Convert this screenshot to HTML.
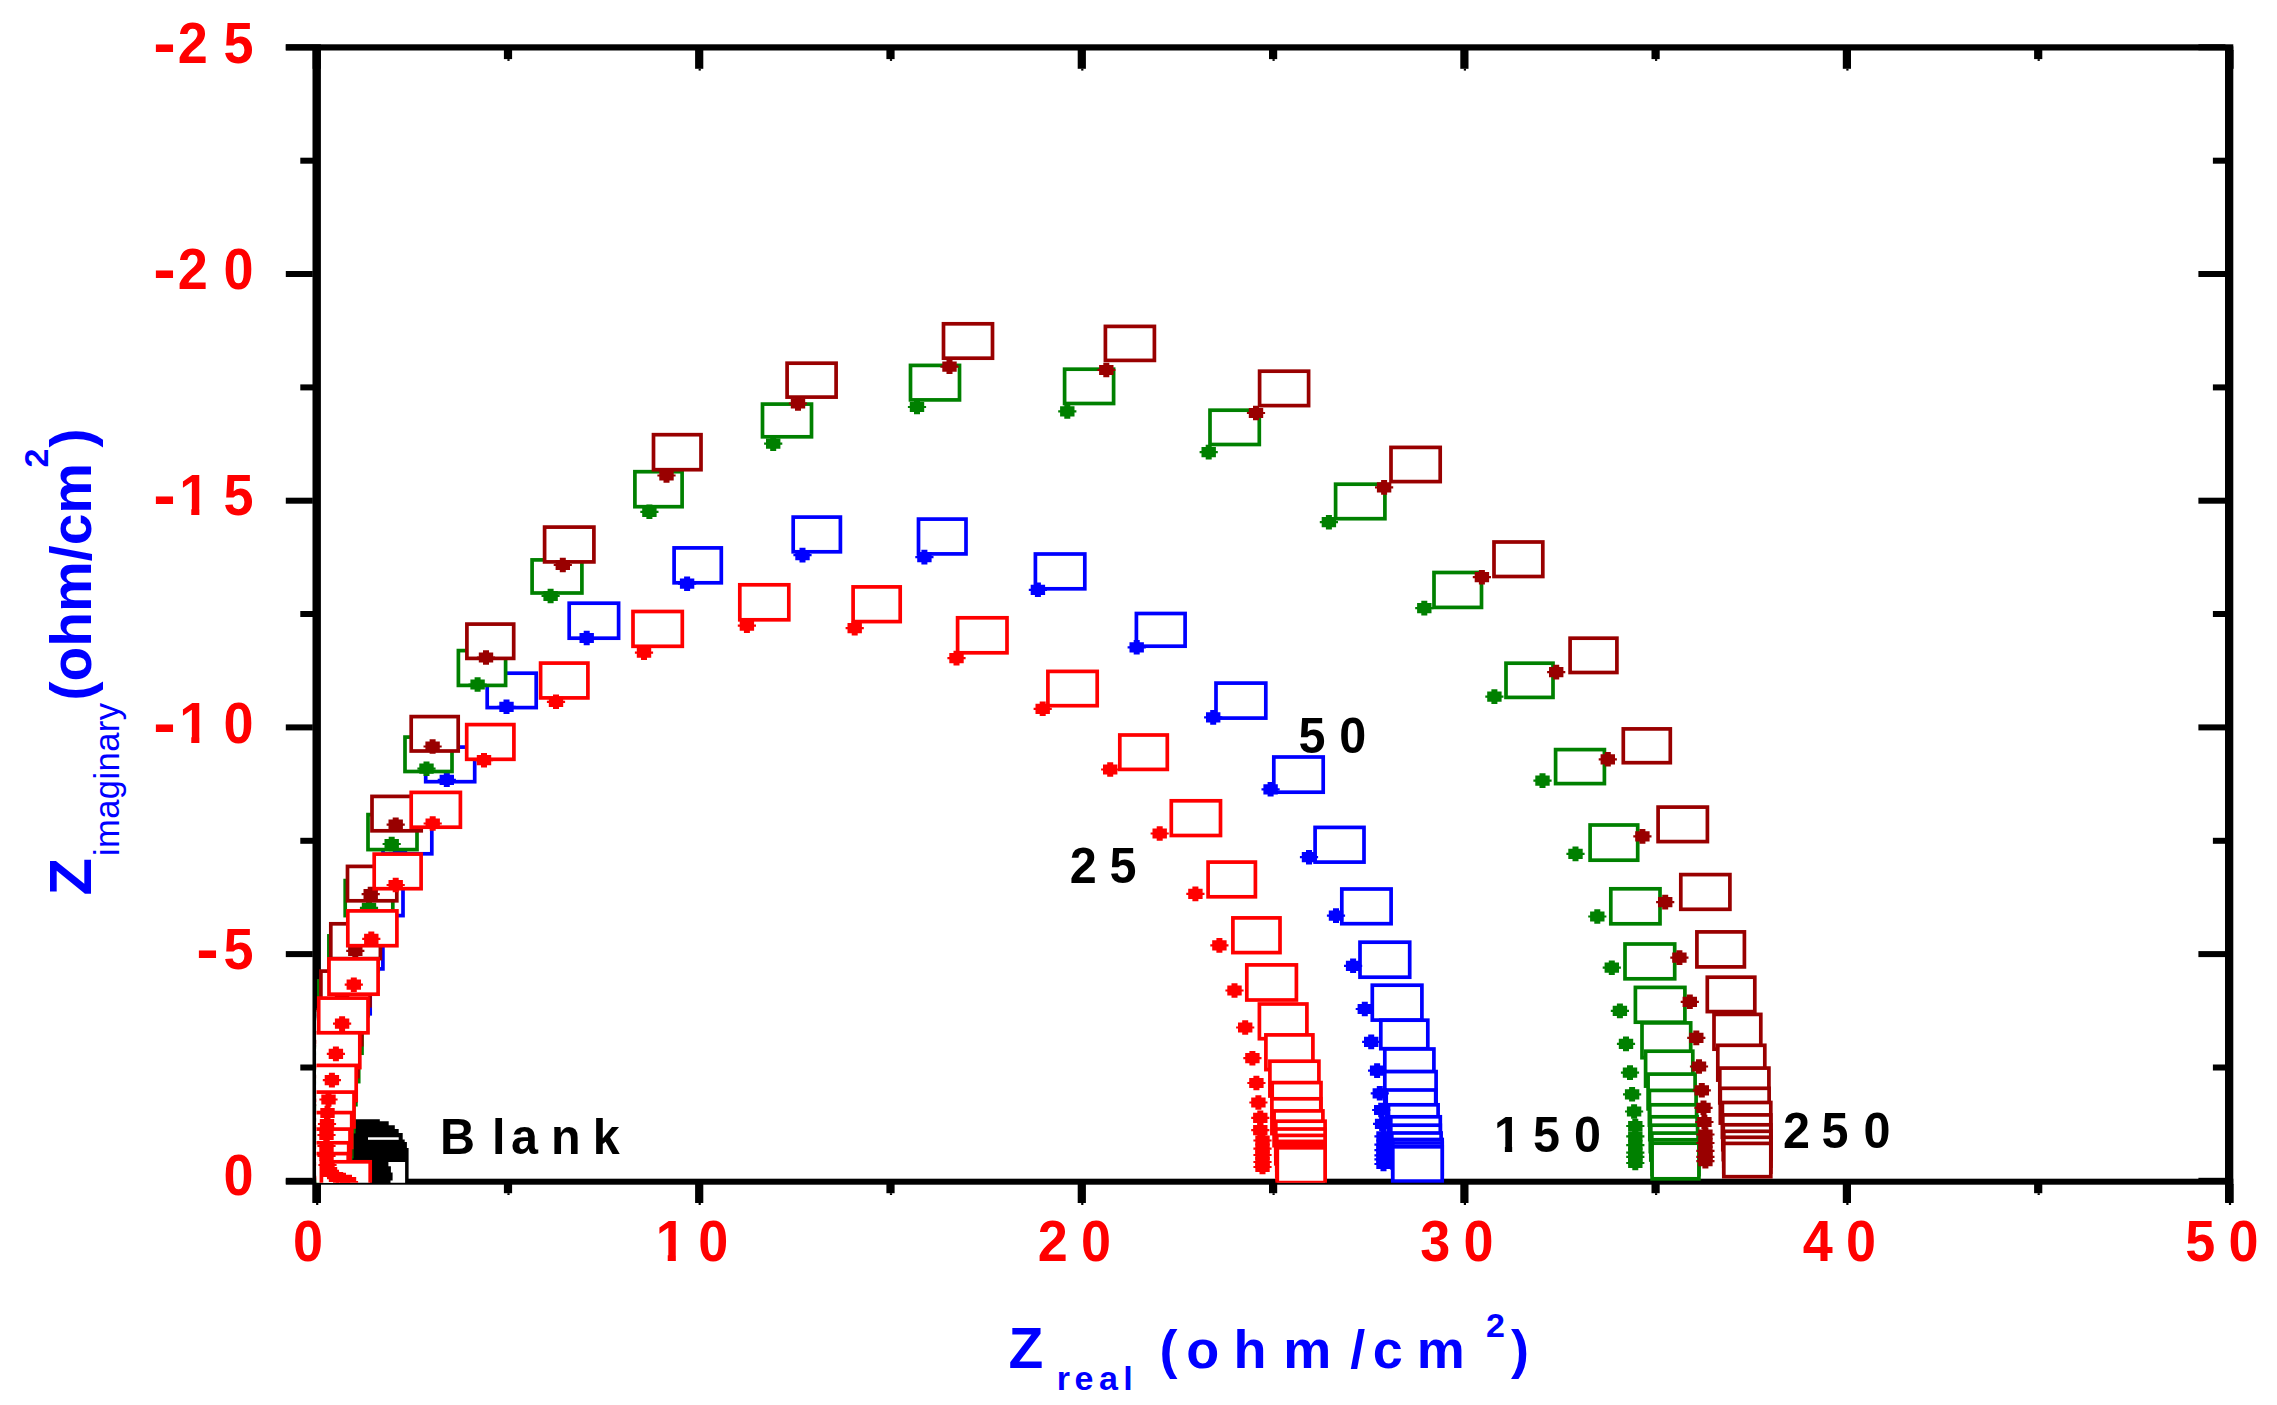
<!DOCTYPE html>
<html><head><meta charset="utf-8"><title>Nyquist plot</title><style>html,body{margin:0;padding:0;background:#fff;}body{width:2277px;height:1405px;overflow:hidden;}svg{display:block;}</style></head><body>
<svg width="2277" height="1405" viewBox="0 0 2277 1405">
<rect width="2277" height="1405" fill="#fff"/>
<defs><path id="dt" d="M-3,-7.3H3V-5.1H7.2V-1.1H9.1V1.1H7.2V5.1H3V7.3H-3V5.1H-7.2V1.1H-9.1V-1.1H-7.2V-5.1H-3Z"/><clipPath id="pc"><rect x="316.5" y="47" width="1912" height="1135.8"/></clipPath></defs>
<g fill="#000">
<rect x="285.8" y="44.3" width="1947.5" height="6.2"/>
<rect x="285.8" y="1178.7" width="1947.5" height="6.0"/>
<rect x="312.5" y="44.3" width="8.4" height="1158.6"/>
<rect x="2225.0" y="46.3" width="8.3" height="1156.5"/>
<rect x="285.8" y="44.3" width="27" height="6"/>
<rect x="2198.4" y="44.3" width="27" height="6"/>
<rect x="300.3" y="157.7" width="13" height="6"/>
<rect x="2212.9" y="157.7" width="13" height="6"/>
<rect x="285.8" y="271.0" width="27" height="6"/>
<rect x="2198.4" y="271.0" width="27" height="6"/>
<rect x="300.3" y="384.4" width="13" height="6"/>
<rect x="2212.9" y="384.4" width="13" height="6"/>
<rect x="285.8" y="497.7" width="27" height="6"/>
<rect x="2198.4" y="497.7" width="27" height="6"/>
<rect x="300.3" y="611.0" width="13" height="6"/>
<rect x="2212.9" y="611.0" width="13" height="6"/>
<rect x="285.8" y="724.4" width="27" height="6"/>
<rect x="2198.4" y="724.4" width="27" height="6"/>
<rect x="300.3" y="837.8" width="13" height="6"/>
<rect x="2212.9" y="837.8" width="13" height="6"/>
<rect x="285.8" y="951.1" width="27" height="6"/>
<rect x="2198.4" y="951.1" width="27" height="6"/>
<rect x="300.3" y="1064.5" width="13" height="6"/>
<rect x="2212.9" y="1064.5" width="13" height="6"/>
<rect x="285.8" y="1177.8" width="27" height="6"/>
<rect x="2198.4" y="1177.8" width="27" height="6"/>
<rect x="312.6" y="1184" width="8.2" height="19"/>
<rect x="312.6" y="50" width="8.2" height="18.8"/>
<rect x="316.1" y="1203" width="2.2" height="2"/>
<rect x="316.1" y="68.8" width="2.2" height="1.8"/>
<rect x="503.9" y="1184" width="8.2" height="9.2"/>
<rect x="503.9" y="50" width="8.2" height="9.1"/>
<rect x="507.4" y="1193.2" width="2.2" height="1.8"/>
<rect x="507.4" y="59.1" width="2.2" height="1.8"/>
<rect x="695.1" y="1184" width="8.2" height="19"/>
<rect x="695.1" y="50" width="8.2" height="18.8"/>
<rect x="698.6" y="1203" width="2.2" height="2"/>
<rect x="698.6" y="68.8" width="2.2" height="1.8"/>
<rect x="886.4" y="1184" width="8.2" height="9.2"/>
<rect x="886.4" y="50" width="8.2" height="9.1"/>
<rect x="889.9" y="1193.2" width="2.2" height="1.8"/>
<rect x="889.9" y="59.1" width="2.2" height="1.8"/>
<rect x="1077.7" y="1184" width="8.2" height="19"/>
<rect x="1077.7" y="50" width="8.2" height="18.8"/>
<rect x="1081.2" y="1203" width="2.2" height="2"/>
<rect x="1081.2" y="68.8" width="2.2" height="1.8"/>
<rect x="1269.0" y="1184" width="8.2" height="9.2"/>
<rect x="1269.0" y="50" width="8.2" height="9.1"/>
<rect x="1272.5" y="1193.2" width="2.2" height="1.8"/>
<rect x="1272.5" y="59.1" width="2.2" height="1.8"/>
<rect x="1460.3" y="1184" width="8.2" height="19"/>
<rect x="1460.3" y="50" width="8.2" height="18.8"/>
<rect x="1463.8" y="1203" width="2.2" height="2"/>
<rect x="1463.8" y="68.8" width="2.2" height="1.8"/>
<rect x="1651.5" y="1184" width="8.2" height="9.2"/>
<rect x="1651.5" y="50" width="8.2" height="9.1"/>
<rect x="1655.0" y="1193.2" width="2.2" height="1.8"/>
<rect x="1655.0" y="59.1" width="2.2" height="1.8"/>
<rect x="1842.8" y="1184" width="8.2" height="19"/>
<rect x="1842.8" y="50" width="8.2" height="18.8"/>
<rect x="1846.3" y="1203" width="2.2" height="2"/>
<rect x="1846.3" y="68.8" width="2.2" height="1.8"/>
<rect x="2034.1" y="1184" width="8.2" height="9.2"/>
<rect x="2034.1" y="50" width="8.2" height="9.1"/>
<rect x="2037.6" y="1193.2" width="2.2" height="1.8"/>
<rect x="2037.6" y="59.1" width="2.2" height="1.8"/>
<rect x="2225.4" y="1184" width="8.2" height="19"/>
<rect x="2225.4" y="50" width="8.2" height="18.8"/>
<rect x="2228.9" y="1203" width="2.2" height="2"/>
<rect x="2228.9" y="68.8" width="2.2" height="1.8"/>
</g>
<g clip-path="url(#pc)">
<path d="M351,1119.2 L379.8,1119.2 L379.8,1121.3 L388.7,1121.3 L388.7,1125.2 L394.8,1125.2 L394.8,1129.1 L398.7,1129.1 L398.7,1133.1 L402.7,1133.1 L402.7,1139.5 L404.7,1139.5 L404.7,1142 L406.9,1142 L406.9,1148 L408.6,1148 L408.6,1184 L349,1184 Z" fill="#000"/>
<rect x="368" y="1137.3" width="30.7" height="2.5" fill="#fff"/>
<path d="M388.4,1161.9 L405.1,1161.9 L405.1,1184 L390.5,1184 L390.5,1180.4 L392.6,1180.4 L392.6,1172.6 L390.9,1172.6 L390.9,1166.2 L388.4,1166.2 Z" fill="#fff"/>
<g fill="#fff" stroke="#0000ff" stroke-width="3.7">
<rect x="1216.0" y="683.1" width="49.8" height="35.0"/>
<rect x="1273.8" y="757.0" width="49.4" height="35.2"/>
<rect x="674.1" y="547.9" width="47.2" height="34.9"/>
<rect x="793.2" y="517.1" width="47.2" height="34.7"/>
<rect x="918.5" y="519.1" width="47.5" height="34.8"/>
<rect x="1035.4" y="554.0" width="49.4" height="34.8"/>
<rect x="1136.4" y="613.5" width="48.7" height="32.7"/>
<rect x="569.2" y="603.2" width="49.4" height="35.0"/>
<rect x="487.2" y="673.2" width="49.0" height="34.4"/>
<rect x="425.7" y="747.1" width="49.0" height="34.6"/>
<rect x="1315.1" y="827.4" width="48.9" height="34.7"/>
<rect x="1341.8" y="889.0" width="49.3" height="34.7"/>
<rect x="1360.0" y="942.2" width="49.7" height="35.0"/>
<rect x="1372.3" y="985.2" width="49.6" height="34.9"/>
<rect x="1380.8" y="1020.2" width="47.0" height="28.5"/>
<rect x="1384.8" y="1049.0" width="49.1" height="22.7"/>
<rect x="1384.8" y="1071.6" width="51.3" height="34.8"/>
<rect x="1386.2" y="1090.0" width="49.5" height="34.8"/>
<rect x="1388.5" y="1104.8" width="49.6" height="34.8"/>
<rect x="1390.8" y="1116.8" width="49.5" height="34.8"/>
<rect x="1390.8" y="1125.2" width="49.5" height="34.8"/>
<rect x="1391.8" y="1133.0" width="49.3" height="34.8"/>
<rect x="1392.8" y="1139.5" width="49.4" height="34.8"/>
<rect x="1392.8" y="1143.0" width="49.4" height="34.8"/>
<rect x="1392.8" y="1146.8" width="49.4" height="34.3"/>
<rect x="383.0" y="819.0" width="48.8" height="34.8"/>
<rect x="354.2" y="880.8" width="48.8" height="34.8"/>
<rect x="334.1" y="934.1" width="48.8" height="34.8"/>
<rect x="321.4" y="979.0" width="48.8" height="34.8"/>
<rect x="309.4" y="1018.4" width="48.8" height="34.8"/>
<rect x="301.4" y="1053.3" width="48.8" height="34.8"/>
<rect x="295.4" y="1083.3" width="48.8" height="34.8"/>
<rect x="291.4" y="1113.3" width="48.8" height="34.8"/>
<rect x="289.4" y="1138.3" width="48.8" height="34.8"/>
</g>
<g fill="#0000ff">
<use href="#dt" x="1213.2" y="717.4"/>
<use href="#dt" x="1270.6" y="789.3"/>
<use href="#dt" x="687.1" y="583.7"/>
<use href="#dt" x="802.5" y="555.1"/>
<use href="#dt" x="924.4" y="557.1"/>
<use href="#dt" x="1037.9" y="589.8"/>
<use href="#dt" x="1136.7" y="647.3"/>
<use href="#dt" x="586.7" y="638.0"/>
<use href="#dt" x="506.5" y="706.8"/>
<use href="#dt" x="446.8" y="779.8"/>
<use href="#dt" x="1309.0" y="857.2"/>
<use href="#dt" x="1336.0" y="915.6"/>
<use href="#dt" x="1353.1" y="965.8"/>
<use href="#dt" x="1364.8" y="1009.0"/>
<use href="#dt" x="1371.2" y="1041.9"/>
<use href="#dt" x="1377.1" y="1070.6"/>
<use href="#dt" x="1379.8" y="1093.3"/>
<use href="#dt" x="1381.2" y="1110.0"/>
<use href="#dt" x="1382.1" y="1123.8"/>
<use href="#dt" x="1383.5" y="1136.3"/>
<use href="#dt" x="1383.5" y="1144.6"/>
<use href="#dt" x="1383.5" y="1150.2"/>
<use href="#dt" x="1383.5" y="1155.3"/>
<use href="#dt" x="1383.5" y="1159.4"/>
<use href="#dt" x="1383.5" y="1164.0"/>
<use href="#dt" x="400.0" y="850.0"/>
<use href="#dt" x="372.0" y="912.0"/>
<use href="#dt" x="352.0" y="965.0"/>
<use href="#dt" x="338.0" y="1010.0"/>
<use href="#dt" x="330.0" y="1050.0"/>
<use href="#dt" x="326.0" y="1085.0"/>
<use href="#dt" x="323.0" y="1115.0"/>
<use href="#dt" x="321.0" y="1140.0"/>
<use href="#dt" x="320.0" y="1160.0"/>
</g>
<g fill="#fff" stroke="#008000" stroke-width="3.7">
<rect x="762.5" y="404.1" width="49.0" height="32.7"/>
<rect x="910.5" y="365.4" width="49.0" height="34.5"/>
<rect x="1064.6" y="369.2" width="49.0" height="34.3"/>
<rect x="1210.0" y="410.2" width="49.3" height="34.3"/>
<rect x="634.9" y="471.7" width="47.2" height="35.0"/>
<rect x="532.1" y="559.9" width="49.8" height="33.1"/>
<rect x="1335.6" y="484.2" width="49.3" height="34.5"/>
<rect x="1434.0" y="572.5" width="47.5" height="34.9"/>
<rect x="1506.0" y="663.2" width="47.0" height="34.2"/>
<rect x="1555.6" y="749.6" width="48.8" height="34.0"/>
<rect x="1590.1" y="825.0" width="47.6" height="35.2"/>
<rect x="1610.8" y="888.8" width="49.2" height="35.0"/>
<rect x="1625.0" y="944.0" width="49.7" height="34.8"/>
<rect x="1635.4" y="987.4" width="49.5" height="34.8"/>
<rect x="1642.0" y="1022.9" width="48.7" height="34.8"/>
<rect x="1645.6" y="1051.2" width="47.2" height="34.9"/>
<rect x="1648.1" y="1074.1" width="47.0" height="34.8"/>
<rect x="1649.4" y="1090.4" width="46.7" height="34.8"/>
<rect x="1649.8" y="1104.8" width="46.8" height="34.8"/>
<rect x="1650.3" y="1116.8" width="46.8" height="34.8"/>
<rect x="1650.8" y="1125.2" width="46.8" height="34.8"/>
<rect x="1651.8" y="1133.1" width="46.3" height="34.8"/>
<rect x="1652.1" y="1139.8" width="46.8" height="34.8"/>
<rect x="1652.1" y="1143.2" width="46.8" height="35.6"/>
<rect x="458.4" y="650.6" width="47.2" height="34.8"/>
<rect x="405.0" y="737.1" width="47.0" height="34.4"/>
<rect x="368.0" y="814.6" width="49.0" height="35.0"/>
<rect x="345.2" y="880.6" width="47.6" height="35.0"/>
<rect x="328.9" y="935.9" width="49.3" height="34.8"/>
<rect x="318.9" y="980.9" width="49.3" height="34.8"/>
<rect x="313.2" y="1018.4" width="48.8" height="34.8"/>
<rect x="309.9" y="1046.8" width="48.8" height="34.8"/>
<rect x="307.1" y="1069.9" width="48.8" height="34.8"/>
<rect x="304.9" y="1096.8" width="48.8" height="34.8"/>
<rect x="302.9" y="1121.8" width="48.8" height="34.8"/>
<rect x="301.9" y="1146.8" width="48.8" height="34.8"/>
</g>
<g fill="#008000">
<use href="#dt" x="773.2" y="443.7"/>
<use href="#dt" x="917.0" y="407.0"/>
<use href="#dt" x="1067.3" y="411.4"/>
<use href="#dt" x="1208.7" y="452.1"/>
<use href="#dt" x="649.4" y="511.8"/>
<use href="#dt" x="550.6" y="596.0"/>
<use href="#dt" x="1328.9" y="522.2"/>
<use href="#dt" x="1424.3" y="608.1"/>
<use href="#dt" x="1494.4" y="696.6"/>
<use href="#dt" x="1542.5" y="780.6"/>
<use href="#dt" x="1575.5" y="853.9"/>
<use href="#dt" x="1597.3" y="916.5"/>
<use href="#dt" x="1611.8" y="967.7"/>
<use href="#dt" x="1619.9" y="1010.9"/>
<use href="#dt" x="1626.0" y="1043.9"/>
<use href="#dt" x="1630.0" y="1072.6"/>
<use href="#dt" x="1632.1" y="1094.3"/>
<use href="#dt" x="1634.1" y="1111.5"/>
<use href="#dt" x="1635.3" y="1126.0"/>
<use href="#dt" x="1635.3" y="1136.3"/>
<use href="#dt" x="1635.3" y="1145.2"/>
<use href="#dt" x="1635.3" y="1152.6"/>
<use href="#dt" x="1635.3" y="1156.9"/>
<use href="#dt" x="1635.3" y="1163.0"/>
<use href="#dt" x="477.6" y="684.5"/>
<use href="#dt" x="426.5" y="768.7"/>
<use href="#dt" x="391.7" y="844.0"/>
<use href="#dt" x="369.0" y="907.8"/>
<use href="#dt" x="352.0" y="960.0"/>
<use href="#dt" x="340.0" y="1005.0"/>
<use href="#dt" x="332.0" y="1045.0"/>
<use href="#dt" x="327.0" y="1080.0"/>
<use href="#dt" x="323.0" y="1110.0"/>
<use href="#dt" x="321.0" y="1140.0"/>
</g>
<g fill="#fff" stroke="#990000" stroke-width="3.7">
<rect x="787.1" y="363.2" width="49.0" height="33.9"/>
<rect x="943.5" y="323.8" width="49.0" height="34.4"/>
<rect x="1105.4" y="326.4" width="49.0" height="34.0"/>
<rect x="1259.6" y="371.2" width="49.0" height="34.4"/>
<rect x="653.5" y="434.7" width="47.5" height="35.0"/>
<rect x="544.6" y="527.1" width="49.3" height="34.8"/>
<rect x="1391.0" y="447.4" width="49.2" height="34.2"/>
<rect x="1494.0" y="542.0" width="48.8" height="34.5"/>
<rect x="1570.1" y="638.2" width="46.8" height="34.3"/>
<rect x="1623.3" y="728.9" width="47.0" height="33.8"/>
<rect x="1658.1" y="807.1" width="49.3" height="34.5"/>
<rect x="1680.8" y="874.6" width="49.1" height="34.7"/>
<rect x="1696.9" y="931.9" width="47.5" height="35.0"/>
<rect x="1707.3" y="977.2" width="47.5" height="34.4"/>
<rect x="1714.0" y="1014.4" width="46.8" height="34.8"/>
<rect x="1717.8" y="1045.3" width="47.0" height="34.8"/>
<rect x="1719.8" y="1068.1" width="49.1" height="34.8"/>
<rect x="1720.3" y="1088.3" width="48.8" height="34.8"/>
<rect x="1722.4" y="1102.5" width="48.4" height="34.8"/>
<rect x="1722.8" y="1114.9" width="48.0" height="34.8"/>
<rect x="1723.3" y="1124.8" width="47.5" height="34.8"/>
<rect x="1723.8" y="1131.3" width="47.0" height="34.8"/>
<rect x="1723.8" y="1137.3" width="47.0" height="34.8"/>
<rect x="1723.8" y="1143.4" width="47.0" height="33.3"/>
<rect x="466.9" y="624.1" width="46.8" height="34.3"/>
<rect x="411.2" y="716.6" width="47.0" height="34.4"/>
<rect x="372.0" y="796.4" width="49.2" height="34.4"/>
<rect x="347.5" y="866.4" width="49.3" height="34.4"/>
<rect x="330.8" y="923.8" width="49.6" height="34.8"/>
<rect x="320.9" y="971.1" width="49.1" height="34.7"/>
<rect x="312.9" y="1009.9" width="48.8" height="34.8"/>
<rect x="309.2" y="1041.8" width="48.8" height="34.8"/>
<rect x="307.1" y="1065.9" width="48.8" height="34.8"/>
<rect x="302.9" y="1095.8" width="48.8" height="34.8"/>
<rect x="301.9" y="1119.8" width="48.8" height="34.8"/>
<rect x="300.9" y="1143.8" width="48.8" height="34.8"/>
</g>
<g fill="#990000">
<use href="#dt" x="798.0" y="403.5"/>
<use href="#dt" x="949.5" y="366.7"/>
<use href="#dt" x="1106.3" y="370.0"/>
<use href="#dt" x="1256.0" y="413.0"/>
<use href="#dt" x="666.5" y="475.5"/>
<use href="#dt" x="562.8" y="565.0"/>
<use href="#dt" x="1384.1" y="487.4"/>
<use href="#dt" x="1481.9" y="577.2"/>
<use href="#dt" x="1556.2" y="672.1"/>
<use href="#dt" x="1607.8" y="759.3"/>
<use href="#dt" x="1642.4" y="836.4"/>
<use href="#dt" x="1665.2" y="902.1"/>
<use href="#dt" x="1679.4" y="957.6"/>
<use href="#dt" x="1689.8" y="1001.8"/>
<use href="#dt" x="1696.3" y="1037.9"/>
<use href="#dt" x="1699.0" y="1066.5"/>
<use href="#dt" x="1701.8" y="1090.3"/>
<use href="#dt" x="1703.5" y="1107.8"/>
<use href="#dt" x="1704.4" y="1122.0"/>
<use href="#dt" x="1705.4" y="1134.5"/>
<use href="#dt" x="1705.4" y="1143.0"/>
<use href="#dt" x="1705.4" y="1150.9"/>
<use href="#dt" x="1705.4" y="1156.9"/>
<use href="#dt" x="1705.4" y="1161.2"/>
<use href="#dt" x="486.0" y="657.5"/>
<use href="#dt" x="432.6" y="746.5"/>
<use href="#dt" x="395.7" y="824.7"/>
<use href="#dt" x="370.7" y="894.1"/>
<use href="#dt" x="355.3" y="950.8"/>
<use href="#dt" x="342.0" y="1000.0"/>
<use href="#dt" x="334.0" y="1040.0"/>
<use href="#dt" x="328.0" y="1075.0"/>
<use href="#dt" x="324.0" y="1105.0"/>
<use href="#dt" x="321.0" y="1135.0"/>
</g>
<g fill="#fff" stroke="#ff0000" stroke-width="3.7">
<rect x="739.8" y="584.8" width="49.0" height="35.0"/>
<rect x="853.1" y="586.9" width="47.1" height="34.7"/>
<rect x="957.6" y="617.8" width="49.4" height="35.0"/>
<rect x="633.0" y="611.5" width="49.3" height="34.8"/>
<rect x="540.6" y="663.1" width="47.3" height="34.8"/>
<rect x="466.7" y="724.6" width="47.2" height="34.7"/>
<rect x="411.2" y="792.4" width="49.2" height="34.8"/>
<rect x="374.2" y="854.1" width="46.9" height="34.6"/>
<rect x="347.8" y="910.9" width="49.1" height="34.8"/>
<rect x="329.0" y="958.9" width="49.1" height="35.3"/>
<rect x="318.7" y="998.1" width="49.3" height="34.7"/>
<rect x="311.0" y="1032.8" width="48.8" height="34.8"/>
<rect x="307.4" y="1065.4" width="48.8" height="34.8"/>
<rect x="305.2" y="1092.1" width="48.8" height="34.8"/>
<rect x="302.9" y="1112.6" width="48.8" height="34.8"/>
<rect x="301.2" y="1129.1" width="48.8" height="34.8"/>
<rect x="299.9" y="1142.8" width="48.8" height="34.8"/>
<rect x="299.4" y="1153.6" width="48.8" height="34.8"/>
<rect x="321.4" y="1161.8" width="48.8" height="34.8"/>
<rect x="1047.9" y="671.4" width="49.3" height="34.3"/>
<rect x="1119.8" y="735.0" width="47.5" height="34.4"/>
<rect x="1171.3" y="800.8" width="49.2" height="34.7"/>
<rect x="1208.1" y="862.1" width="47.3" height="34.7"/>
<rect x="1232.9" y="917.9" width="47.1" height="34.7"/>
<rect x="1246.8" y="964.9" width="49.6" height="35.1"/>
<rect x="1259.4" y="1004.0" width="47.5" height="34.7"/>
<rect x="1265.9" y="1034.9" width="47.0" height="34.7"/>
<rect x="1269.9" y="1061.2" width="49.0" height="34.8"/>
<rect x="1272.2" y="1082.6" width="48.8" height="34.8"/>
<rect x="1271.9" y="1098.8" width="48.9" height="34.8"/>
<rect x="1274.1" y="1110.9" width="48.8" height="34.8"/>
<rect x="1275.8" y="1121.2" width="49.3" height="34.8"/>
<rect x="1275.8" y="1129.0" width="49.3" height="34.8"/>
<rect x="1276.8" y="1135.4" width="48.3" height="34.8"/>
<rect x="1276.8" y="1141.4" width="48.3" height="34.8"/>
<rect x="1277.3" y="1144.8" width="47.8" height="34.8"/>
<rect x="1277.3" y="1147.8" width="47.8" height="34.8"/>
</g>
<g fill="#ff0000">
<use href="#dt" x="854.7" y="628.2"/>
<use href="#dt" x="956.5" y="658.1"/>
<use href="#dt" x="644.0" y="652.6"/>
<use href="#dt" x="746.9" y="625.6"/>
<use href="#dt" x="556.0" y="701.8"/>
<use href="#dt" x="484.0" y="760.2"/>
<use href="#dt" x="432.7" y="823.5"/>
<use href="#dt" x="395.7" y="885.0"/>
<use href="#dt" x="371.3" y="938.9"/>
<use href="#dt" x="353.8" y="984.7"/>
<use href="#dt" x="342.1" y="1023.6"/>
<use href="#dt" x="335.9" y="1053.9"/>
<use href="#dt" x="331.9" y="1080.1"/>
<use href="#dt" x="328.5" y="1099.5"/>
<use href="#dt" x="327.5" y="1113.0"/>
<use href="#dt" x="327.0" y="1124.0"/>
<use href="#dt" x="326.5" y="1135.0"/>
<use href="#dt" x="326.5" y="1146.0"/>
<use href="#dt" x="326.5" y="1156.0"/>
<use href="#dt" x="327.5" y="1165.0"/>
<use href="#dt" x="330.0" y="1172.0"/>
<use href="#dt" x="336.0" y="1177.0"/>
<use href="#dt" x="343.0" y="1180.0"/>
<use href="#dt" x="349.0" y="1182.0"/>
<use href="#dt" x="1042.7" y="708.8"/>
<use href="#dt" x="1110.2" y="769.5"/>
<use href="#dt" x="1159.7" y="833.5"/>
<use href="#dt" x="1195.4" y="893.9"/>
<use href="#dt" x="1219.4" y="945.4"/>
<use href="#dt" x="1234.5" y="990.5"/>
<use href="#dt" x="1245.2" y="1027.5"/>
<use href="#dt" x="1252.4" y="1058.2"/>
<use href="#dt" x="1256.4" y="1083.0"/>
<use href="#dt" x="1258.4" y="1102.5"/>
<use href="#dt" x="1260.3" y="1117.8"/>
<use href="#dt" x="1260.3" y="1130.2"/>
<use href="#dt" x="1262.5" y="1140.5"/>
<use href="#dt" x="1262.5" y="1148.6"/>
<use href="#dt" x="1262.5" y="1155.0"/>
<use href="#dt" x="1262.5" y="1162.0"/>
<use href="#dt" x="1262.5" y="1167.0"/>
</g>
</g>
<g font-family="'Liberation Sans', Arial, sans-serif">
<text transform="translate(164.50,65.10) scale(1.25,1.15)" font-size="54" font-weight="bold" fill="#ff0000" text-anchor="middle">-</text>
<text transform="translate(192.70,62.70) scale(1.0,1.046)" font-size="54" font-weight="bold" fill="#ff0000" text-anchor="middle">2</text>
<text transform="translate(238.40,62.70) scale(1.0,1.046)" font-size="54" font-weight="bold" fill="#ff0000" text-anchor="middle">5</text>
<text transform="translate(164.50,291.20) scale(1.25,1.15)" font-size="54" font-weight="bold" fill="#ff0000" text-anchor="middle">-</text>
<text transform="translate(192.70,288.80) scale(1.0,1.046)" font-size="54" font-weight="bold" fill="#ff0000" text-anchor="middle">2</text>
<text transform="translate(238.40,288.80) scale(1.0,1.046)" font-size="54" font-weight="bold" fill="#ff0000" text-anchor="middle">0</text>
<text transform="translate(164.50,517.00) scale(1.25,1.15)" font-size="54" font-weight="bold" fill="#ff0000" text-anchor="middle">-</text>
<text transform="translate(194.20,514.60) scale(1.0,1.046)" font-size="54" font-weight="bold" fill="#ff0000" text-anchor="middle" clip-path="url(#one0)">1</text>
<text transform="translate(238.40,514.60) scale(1.0,1.046)" font-size="54" font-weight="bold" fill="#ff0000" text-anchor="middle">5</text>
<text transform="translate(164.50,745.30) scale(1.25,1.15)" font-size="54" font-weight="bold" fill="#ff0000" text-anchor="middle">-</text>
<text transform="translate(194.20,742.90) scale(1.0,1.046)" font-size="54" font-weight="bold" fill="#ff0000" text-anchor="middle" clip-path="url(#one1)">1</text>
<text transform="translate(238.40,742.90) scale(1.0,1.046)" font-size="54" font-weight="bold" fill="#ff0000" text-anchor="middle">0</text>
<text transform="translate(207.60,971.30) scale(1.25,1.15)" font-size="54" font-weight="bold" fill="#ff0000" text-anchor="middle">-</text>
<text transform="translate(238.60,968.90) scale(1.0,1.046)" font-size="54" font-weight="bold" fill="#ff0000" text-anchor="middle">5</text>
<text transform="translate(238.60,1194.60) scale(1.0,1.046)" font-size="54" font-weight="bold" fill="#ff0000" text-anchor="middle">0</text>
<text transform="translate(308.00,1261.00) scale(1.0,1.055)" font-size="54" font-weight="bold" fill="#ff0000" text-anchor="middle">0</text>
<text transform="translate(670.65,1261.00) scale(1.0,1.055)" font-size="54" font-weight="bold" fill="#ff0000" text-anchor="middle" clip-path="url(#one2)">1</text>
<text transform="translate(713.35,1261.00) scale(1.0,1.055)" font-size="54" font-weight="bold" fill="#ff0000" text-anchor="middle">0</text>
<text transform="translate(1052.70,1261.00) scale(1.0,1.055)" font-size="54" font-weight="bold" fill="#ff0000" text-anchor="middle">2</text>
<text transform="translate(1095.90,1261.00) scale(1.0,1.055)" font-size="54" font-weight="bold" fill="#ff0000" text-anchor="middle">0</text>
<text transform="translate(1435.25,1261.00) scale(1.0,1.055)" font-size="54" font-weight="bold" fill="#ff0000" text-anchor="middle">3</text>
<text transform="translate(1478.45,1261.00) scale(1.0,1.055)" font-size="54" font-weight="bold" fill="#ff0000" text-anchor="middle">0</text>
<text transform="translate(1817.80,1261.00) scale(1.0,1.055)" font-size="54" font-weight="bold" fill="#ff0000" text-anchor="middle">4</text>
<text transform="translate(1861.00,1261.00) scale(1.0,1.055)" font-size="54" font-weight="bold" fill="#ff0000" text-anchor="middle">0</text>
<text transform="translate(2200.35,1261.00) scale(1.0,1.055)" font-size="54" font-weight="bold" fill="#ff0000" text-anchor="middle">5</text>
<text transform="translate(2243.55,1261.00) scale(1.0,1.055)" font-size="54" font-weight="bold" fill="#ff0000" text-anchor="middle">0</text>
<text transform="translate(1083.30,882.60) scale(1.0,1.035)" font-size="48.5" font-weight="bold" fill="#000" text-anchor="middle">2</text>
<text transform="translate(1123.00,882.60) scale(1.0,1.035)" font-size="48.5" font-weight="bold" fill="#000" text-anchor="middle">5</text>
<text transform="translate(1312.10,752.80) scale(1.0,1.035)" font-size="48.5" font-weight="bold" fill="#000" text-anchor="middle">5</text>
<text transform="translate(1352.80,752.80) scale(1.0,1.035)" font-size="48.5" font-weight="bold" fill="#000" text-anchor="middle">0</text>
<text transform="translate(1507.50,1151.70) scale(1.0,1.035)" font-size="48.5" font-weight="bold" fill="#000" text-anchor="middle" clip-path="url(#one3)">1</text>
<text transform="translate(1546.40,1151.70) scale(1.0,1.035)" font-size="48.5" font-weight="bold" fill="#000" text-anchor="middle">5</text>
<text transform="translate(1587.50,1151.70) scale(1.0,1.035)" font-size="48.5" font-weight="bold" fill="#000" text-anchor="middle">0</text>
<text transform="translate(1796.40,1147.60) scale(1.0,1.035)" font-size="48.5" font-weight="bold" fill="#000" text-anchor="middle">2</text>
<text transform="translate(1835.10,1147.60) scale(1.0,1.035)" font-size="48.5" font-weight="bold" fill="#000" text-anchor="middle">5</text>
<text transform="translate(1877.10,1147.60) scale(1.0,1.035)" font-size="48.5" font-weight="bold" fill="#000" text-anchor="middle">0</text>
<text transform="translate(457.60,1153.60) scale(1.0,1.035)" font-size="48.5" font-weight="bold" fill="#000" text-anchor="middle">B</text>
<text transform="translate(498.70,1153.60) scale(1.0,1.035)" font-size="48.5" font-weight="bold" fill="#000" text-anchor="middle">l</text>
<text transform="translate(524.60,1153.60) scale(1.0,1.035)" font-size="48.5" font-weight="bold" fill="#000" text-anchor="middle">a</text>
<text transform="translate(565.90,1153.60) scale(1.0,1.035)" font-size="48.5" font-weight="bold" fill="#000" text-anchor="middle">n</text>
<text transform="translate(606.20,1153.60) scale(1.0,1.035)" font-size="48.5" font-weight="bold" fill="#000" text-anchor="middle">k</text>
<text transform="translate(1025.90,1367.60) scale(1.0,1.02)" font-size="57" font-weight="bold" fill="#0000ff" text-anchor="middle">Z</text>
<text transform="translate(1063.40,1389.80)" font-size="34" font-weight="bold" fill="#0000ff" text-anchor="middle">r</text>
<text transform="translate(1084.00,1389.80)" font-size="34" font-weight="bold" fill="#0000ff" text-anchor="middle">e</text>
<text transform="translate(1108.50,1389.80)" font-size="34" font-weight="bold" fill="#0000ff" text-anchor="middle">a</text>
<text transform="translate(1128.00,1389.80)" font-size="34" font-weight="bold" fill="#0000ff" text-anchor="middle">l</text>
<text transform="translate(1168.40,1367.60)" font-size="54" font-weight="bold" fill="#0000ff" text-anchor="middle">(</text>
<text transform="translate(1202.80,1367.60)" font-size="54" font-weight="bold" fill="#0000ff" text-anchor="middle">o</text>
<text transform="translate(1250.10,1367.60)" font-size="54" font-weight="bold" fill="#0000ff" text-anchor="middle">h</text>
<text transform="translate(1307.20,1367.60)" font-size="54" font-weight="bold" fill="#0000ff" text-anchor="middle">m</text>
<text transform="translate(1357.70,1367.60)" font-size="54" font-weight="bold" fill="#0000ff" text-anchor="middle">/</text>
<text transform="translate(1387.80,1367.60)" font-size="54" font-weight="bold" fill="#0000ff" text-anchor="middle">c</text>
<text transform="translate(1440.70,1367.60)" font-size="54" font-weight="bold" fill="#0000ff" text-anchor="middle">m</text>
<text transform="translate(1495.40,1336.90)" font-size="34" font-weight="bold" fill="#0000ff" text-anchor="middle">2</text>
<text transform="translate(1520.00,1367.60)" font-size="54" font-weight="bold" fill="#0000ff" text-anchor="middle">)</text>
<text transform="translate(90.8,895.4) rotate(-90) scale(1.08,1.03)" font-size="57" font-weight="bold" fill="#0000ff">Z</text>
<text transform="translate(119.4,856) rotate(-90)" font-size="34.5" fill="#0000ff" textLength="153" lengthAdjust="spacing">imaginary</text>
<text transform="translate(91,700.5) rotate(-90)" font-size="57" font-weight="bold" fill="#0000ff">(ohm/cm</text>
<text transform="translate(47.6,467.5) rotate(-90)" font-size="34" font-weight="bold" fill="#0000ff">2</text>
<text transform="translate(91,447.5) rotate(-90)" font-size="57" font-weight="bold" fill="#0000ff">)</text>
</g>
<defs><clipPath id="one0"><rect x="-17.01" y="-48.60" width="37.80" height="42.93"/><rect x="-2.92" y="-5.94" width="8.10" height="7.94"/></clipPath><clipPath id="one1"><rect x="-17.01" y="-48.60" width="37.80" height="42.93"/><rect x="-2.92" y="-5.94" width="8.10" height="7.94"/></clipPath><clipPath id="one2"><rect x="-17.01" y="-48.60" width="37.80" height="42.93"/><rect x="-2.92" y="-5.94" width="8.10" height="7.94"/></clipPath><clipPath id="one3"><rect x="-15.48" y="-43.65" width="33.95" height="38.56"/><rect x="-2.62" y="-5.33" width="7.27" height="7.33"/></clipPath></defs>
</svg>
</body></html>
